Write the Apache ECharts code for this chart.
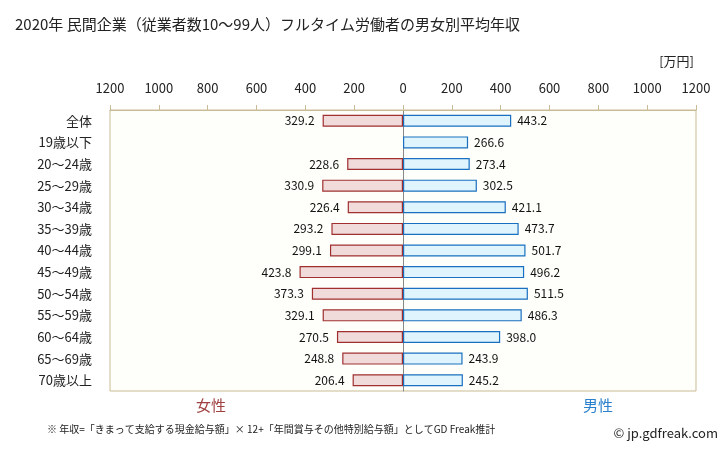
<!DOCTYPE html>
<html><head><meta charset="utf-8">
<script src="https://cdn.jsdelivr.net/npm/echarts@6/dist/echarts.min.js"></script>
<style>html,body{margin:0;padding:0;background:#fff}#c{width:728px;height:451px}</style>
</head><body><div id="c"></div>
<script>
const categories = ['全体','19歳以下','20〜24歳','25〜29歳','30〜34歳','35〜39歳','40〜44歳','45〜49歳','50〜54歳','55〜59歳','60〜64歳','65〜69歳','70歳以上'];
const female = [329.2, null, 228.6, 330.9, 226.4, 293.2, 299.1, 423.8, 373.3, 329.1, 270.5, 248.8, 206.4];
const male = [443.2, 266.6, 273.4, 302.5, 421.1, 473.7, 501.7, 496.2, 511.5, 486.3, 398.0, 243.9, 245.2];
const ticks = [-1200,-1000,-800,-600,-400,-200,0,200,400,600,800,1000,1200];

const font = '"Noto Sans CJK JP", "Noto Sans", sans-serif';
const chart = echarts.init(document.getElementById('c'));
chart.setOption({
  animation: false,
  backgroundColor: '#ffffff',
  title: {
    text: '2020年 民間企業（従業者数10〜99人）フルタイム労働者の男女別平均年収',
    left: 10, top: 12,
    textStyle: {fontSize: 15, fontWeight: 'normal', color: '#222', fontFamily: font}
  },
  grid: {left: 110, right: 32, top: 110, bottom: 60, show: true, backgroundColor: '#fefefa', borderColor: '#c8bc94', borderWidth: 1},
  xAxis: {
    type: 'value', position: 'top', min: -1200, max: 1200, interval: 200,
    axisLine: {show: true, lineStyle: {color: '#c8bc94'}},
    axisTick: {show: true, length: 5, lineStyle: {color: '#c8bc94'}},
    splitLine: {show: false},
    axisLabel: {margin: 15, color: '#222', fontSize: 13, fontFamily: font,
      formatter: v => String(Math.abs(v))}
  },
  yAxis: {
    type: 'category', data: categories, inverse: true,
    axisLine: {show: true, onZero: true, lineStyle: {color: '#888888'}},
    axisTick: {show: false},
    axisLabel: {color: '#222', fontSize: 13, fontFamily: font, margin: 18},
    position: 'left'
  },
  series: [
    {
      name: '女性', type: 'bar', barWidth: 12, barGap: '-100%',
      data: female.map(v => v == null ? null : -v),
      itemStyle: {color: '#f0dada', borderColor: '#a03030', borderWidth: 1.2},
      label: {show: true, position: 'left', distance: 8, color: '#111', fontSize: 12, fontFamily: font,
        formatter: p => p.value == null ? '' : Math.abs(p.value).toFixed(1)}
    },
    {
      name: '男性', type: 'bar', barWidth: 12,
      data: male,
      itemStyle: {color: '#dff4fc', borderColor: '#1a70c0', borderWidth: 1.2},
      label: {show: true, position: 'right', distance: 6, color: '#111', fontSize: 12, fontFamily: font,
        formatter: p => p.value.toFixed(1)}
    }
  ],
  graphic: [
    {type: 'text', right: 34, top: 55, style: {text: '[万円]', fontSize: 13, fill: '#222', fontFamily: font}},
    {type: 'text', left: 196, top: 398, style: {text: '女性', fontSize: 15, fill: '#a04040', fontFamily: font}},
    {type: 'text', left: 583, top: 398, style: {text: '男性', fontSize: 15, fill: '#2a80cc', fontFamily: font}},
    {type: 'text', left: 47, top: 424, style: {text: '※ 年収=「きまって支給する現金給与額」× 12+「年間賞与その他特別給与額」としてGD Freak推計', fontSize: 10, fill: '#222', fontFamily: font}},
    {type: 'text', right: 10, top: 427, style: {text: '© jp.gdfreak.com', fontSize: 13, fill: '#222', fontFamily: font}}
  ]
});
</script>
</body></html>
